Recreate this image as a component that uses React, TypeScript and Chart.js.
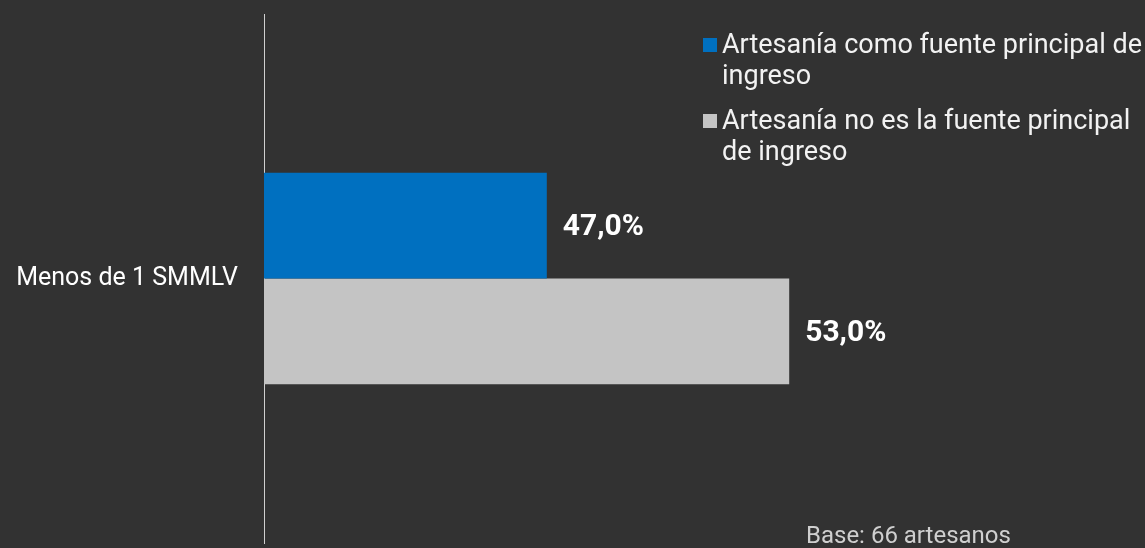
import React, { useEffect, useRef } from "react";
import { Chart, registerables } from "chart.js";
Chart.register(...registerables);

const categories = ["Menos de 1 SMMLV"];
const seriesNames = [
  "Artesanía como fuente principal de ingreso",
  "Artesanía no es la fuente principal de ingreso",
];
const legendLines = [
  ["Artesanía como fuente principal de", "ingreso"],
  ["Artesanía no es la fuente principal", "de ingreso"],
];
const principalValues = [47.0];
const noPrincipalValues = [53.0];
const seriesColors = ["#0070C0", "#C4C4C4"];
const baseNote = "Base: 66 artesanos";

const FONT = "Roboto, 'DejaVu Sans', sans-serif";
const BG = "#323232";

const fmt = (v: number) => v.toFixed(1).replace(".", ",") + "%";

const overlayPlugin = {
  id: "overlay",
  afterDatasetsDraw(chart: any) {
    const ctx = chart.ctx;
    ctx.save();
    // data labels
    ctx.font = `bold 30px ${FONT}`;
    ctx.fillStyle = "#FFFFFF";
    ctx.textAlign = "left";
    ctx.textBaseline = "middle";
    chart.data.datasets.forEach((ds: any, di: number) => {
      const meta = chart.getDatasetMeta(di);
      meta.data.forEach((bar: any, i: number) => {
        ctx.fillText(fmt(ds.data[i]), bar.x + 16, bar.y + 2);
      });
    });
    // legend
    const legendX = 703;
    const itemTops = [45, 121];
    const lineH = 31;
    ctx.font = `27px ${FONT}`;
    legendLines.forEach((lines, i) => {
      const cy = itemTops[i];
      ctx.fillStyle = seriesColors[i];
      ctx.fillRect(legendX, cy - 7, 14, 14);
      ctx.fillStyle = "#F2F2F2";
      lines.forEach((ln, j) => {
        ctx.fillText(ln, legendX + 19, cy + j * lineH + 1);
      });
    });
    // base note
    ctx.font = `24px ${FONT}`;
    ctx.fillStyle = "#CFCFCF";
    ctx.fillText(baseNote, 806, 537);
    ctx.restore();
  },
};

export default function App() {
  const ref = useRef<HTMLCanvasElement>(null);
  useEffect(() => {
    document.body.style.margin = "0";
    document.body.style.background = BG;
    const chart = new Chart(ref.current!, {
      type: "bar",
      data: {
        labels: categories,
        datasets: [
          {
            label: seriesNames[0],
            data: principalValues,
            backgroundColor: seriesColors[0],
            barPercentage: 1,
            categoryPercentage: 0.4,
          },
          {
            label: seriesNames[1],
            data: noPrincipalValues,
            backgroundColor: seriesColors[1],
            barPercentage: 1,
            categoryPercentage: 0.4,
          },
        ],
      },
      options: {
        indexAxis: "y",
        responsive: false,
        animation: false,
        layout: { padding: { top: 14, bottom: 5, left: 0, right: 73 } },
        plugins: { legend: { display: false }, tooltip: { enabled: false } },
        scales: {
          x: { display: false, min: 40, max: 60 },
          y: {
            grid: { display: false, drawTicks: false },
            border: { display: true, color: "#D0D0D0", width: 1 },
            ticks: {
              color: "#FFFFFF",
              padding: 26,
              font: { family: FONT, size: 25 },
            },
            afterFit(scale: any) {
              scale.width = 264;
              scale.paddingTop = 0;
              scale.paddingBottom = 0;
            },
          },
        },
      },
      plugins: [overlayPlugin],
    });
    return () => chart.destroy();
  }, []);
  return (
    <div style={{ position: "fixed", inset: 0, background: BG }}>
      <canvas ref={ref} width={1145} height={548} style={{ display: "block" }} />
    </div>
  );
}
